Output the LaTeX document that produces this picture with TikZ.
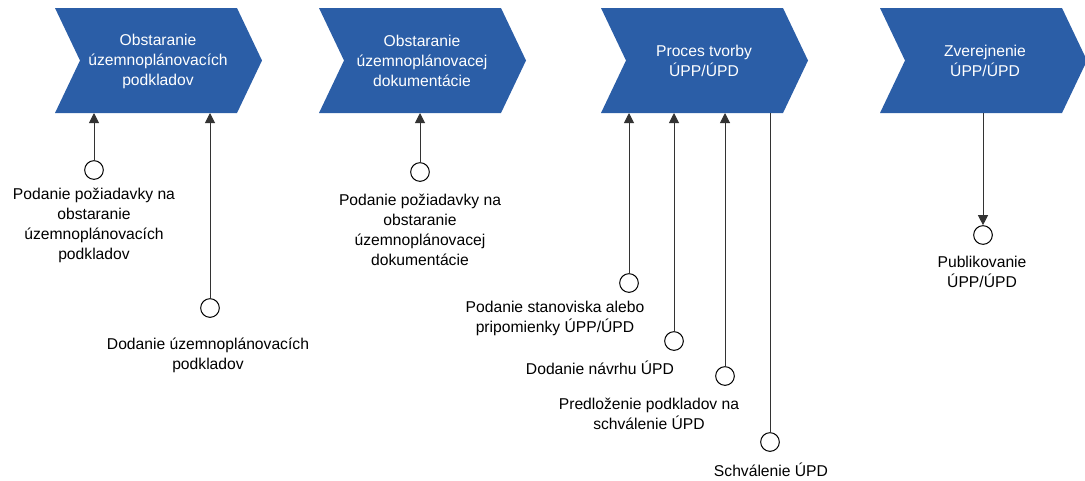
\documentclass[tikz,border=0pt]{standalone}
\usepackage{fontspec}
\setmainfont{Liberation Sans}
\usetikzlibrary{arrows.meta}
\definecolor{chevblue}{HTML}{2B5EA7}
\definecolor{linegray}{HTML}{333333}
\begin{document}
\begin{tikzpicture}[x=0.75pt,y=-0.75pt,
  chevfill/.style={fill=chevblue},
  chevtext/.style={text=white,align=center,inner sep=0pt,font=\fontsize{11.75}{15}\selectfont},
  lbl/.style={text=black,align=center,inner sep=0pt,font=\fontsize{11.75}{15}\selectfont},
  evt/.style={circle,draw=black,line width=0.75pt,fill=white,minimum size=14pt,inner sep=0pt},
  arr/.style={draw=linegray,line width=0.75pt,-{Triangle[width=7.5pt,length=7.5pt]}},
  plain/.style={draw=linegray,line width=0.75pt}]
\useasboundingbox (0,0) rectangle (1085,480);
% chevrons
\foreach \L in {55,319,601,880}{
  \fill[chevfill] (\L,8) -- (\L+182,8) -- (\L+207,60.5) -- (\L+182,113) -- (\L,113) -- (\L+25,60.5) -- cycle;
}
\coordinate (bot) at (0,113);
\node[chevtext] (p1) at (158,61) {Obstaranie\\územnoplánovacích\\podkladov};
\node[chevtext] (p2) at (422,61) {Obstaranie\\územnoplánovacej\\dokumentácie};
\node[chevtext] (p3) at (704,61) {Proces tvorby\\ÚPP/ÚPD};
\node[chevtext] (p4) at (985,61) {Zverejnenie\\ÚPP/ÚPD};
% events
\node[evt] (c1) at (94,170) {};
\node[evt] (c2) at (210,308) {};
\node[evt] (c3) at (420,172) {};
\node[evt] (c4) at (629,283) {};
\node[evt] (c5) at (674,341) {};
\node[evt] (c6) at (725,376) {};
\node[evt] (c7) at (770,442) {};
\node[evt] (c8) at (983,235) {};
% labels
\node[lbl] (l1) at (94,225) {Podanie požiadavky na\\obstaranie\\územnoplánovacích\\podkladov};
\node[lbl] (l2) at (208,355) {Dodanie územnoplánovacích\\podkladov};
\node[lbl] (l3) at (420,230) {Podanie požiadavky na\\obstaranie\\územnoplánovacej\\dokumentácie};
\node[lbl] (l4) at (555,318) {Podanie stanoviska alebo\\pripomienky ÚPP/ÚPD};
\node[lbl] (l5) at (600,368) {Dodanie návrhu ÚPD};
\node[lbl] (l6) at (649,413.5) {Predloženie podkladov na\\schválenie ÚPD};
\node[lbl] (l7) at (771,470) {Schválenie ÚPD};
\node[lbl] (l8) at (982,272) {Publikovanie\\ÚPP/ÚPD};
% connectors
\draw[arr] (c1) -- (c1 |- bot);
\draw[arr] (c2) -- (c2 |- bot);
\draw[arr] (c3) -- (c3 |- bot);
\draw[arr] (c4) -- (c4 |- bot);
\draw[arr] (c5) -- (c5 |- bot);
\draw[arr] (c6) -- (c6 |- bot);
\draw[plain] (c7) -- (c7 |- bot);
\draw[arr] (c8 |- bot) -- (c8);
\end{tikzpicture}
\end{document}
